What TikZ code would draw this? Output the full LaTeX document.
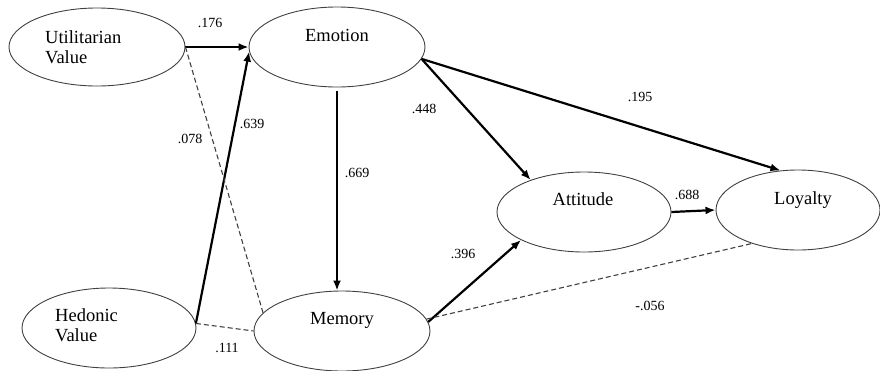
\documentclass[tikz,border=0pt]{standalone}
\usepackage{fontspec}
\setmainfont{Liberation Serif}
\usetikzlibrary{shapes.geometric,arrows.meta}
\begin{document}
\begin{tikzpicture}[x=1pt,y=-1pt,
  latent/.style={draw=black!75,line width=0.9pt,ellipse,inner sep=0pt},
  vname/.style={font=\fontsize{18.5}{20}\selectfont,anchor=base,inner sep=0pt},
  lvname/.style={vname,anchor=base west},
  coef/.style={font=\fontsize{14}{16}\selectfont,anchor=base,inner sep=0pt},
  causal/.style={line width=2.2pt,-{Latex[length=10pt,width=8pt]}},
  ns/.style={line width=1.1pt,black!75,dash pattern=on 5pt off 3pt}]
\useasboundingbox (0,0) rectangle (880,370);
% latent variables
\node[latent,minimum width=176pt,minimum height=78pt] (u) at (97,47) {};
\node[latent,minimum width=176pt,minimum height=80pt] (e) at (337,47) {};
\node[latent,minimum width=174pt,minimum height=80pt] (h) at (109,328) {};
\node[latent,minimum width=176pt,minimum height=80pt] (m) at (342,331) {};
\node[latent,minimum width=174pt,minimum height=80pt] (a) at (584,212) {};
\node[latent,minimum width=164pt,minimum height=80pt] (l) at (798,210) {};
% names
\node[lvname] (ut1) at (45,43) {Utilitarian};
\node[lvname] (ut2) at (45,63) {Value};
\node[lvname] (he1) at (55,321) {Hedonic};
\node[lvname] (he2) at (55,341) {Value};
\node[vname] (et) at (337,41) {Emotion};
\node[vname] (mt) at (342,324) {Memory};
\node[vname] (at) at (583,205) {Attitude};
\node[vname] (lt) at (803,204) {Loyalty};
% paths
\draw[causal] (u.east) -- (e.west);
\draw[causal] (h.3) -- (e.183);
\draw[causal,shorten <=4pt] (e.south) -- (m.north -| e.south);
\draw[causal] (e.-8) -- (a.149);
\draw[causal] (e.-8) -- (l.114);
\draw[causal] (m.6) -- (a.204);
\draw[causal] (a.east) -- (l.west);
\draw[ns] (u.east) -- (m.167);
\draw[ns] (h.3) -- (m.west);
\draw[ns] (m.8) -- (l.216);
% coefficients
\node[coef] (c1) at (210,27) {.176};
\node[coef] (c2) at (252,128) {.639};
\node[coef] (c3) at (190,143) {.078};
\node[coef] (c4) at (357,177) {.669};
\node[coef] (c5) at (424,113) {.448};
\node[coef] (c6) at (640,101) {.195};
\node[coef] (c7) at (227,352) {.111};
\node[coef] (c8) at (463,258) {.396};
\node[coef] (c9) at (687,199) {.688};
\node[coef] (c10) at (650,310) {-.056};
\end{tikzpicture}
\end{document}
